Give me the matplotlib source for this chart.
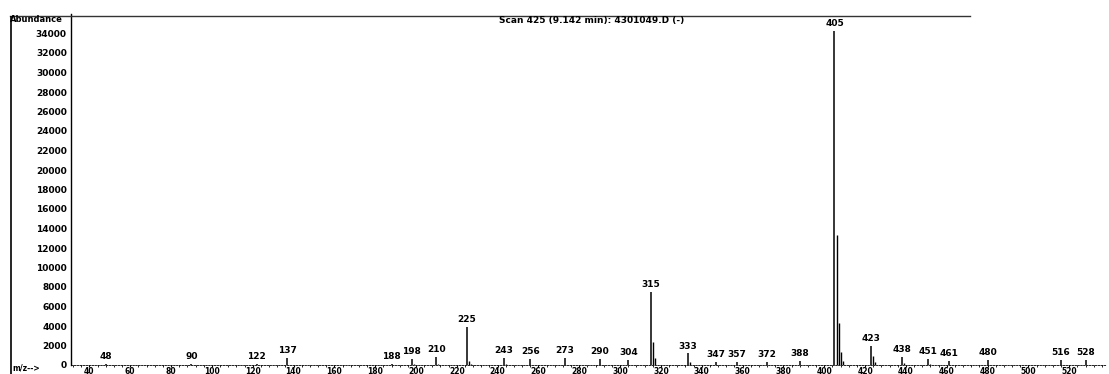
import matplotlib
matplotlib.use("Agg")
import matplotlib.pyplot as plt
from matplotlib.lines import Line2D
from matplotlib.ticker import MultipleLocator

# m/z values and abundances (labelled peaks)
label_mz = [48, 90, 122, 137, 188, 198, 210, 225, 243, 256, 273, 290, 304,
            315, 333, 347, 357, 372, 388, 405, 423, 438, 451, 461, 480, 516, 528]
label_ab = [150, 120, 150, 750, 150, 650, 800, 3900, 750, 600, 750, 600, 500,
            7500, 1200, 300, 300, 300, 400, 34300, 1950, 850, 600, 400, 500, 500, 500]

# additional unlabelled peaks (isotope / fragment lines)
extra_mz = [406, 407, 408, 409, 316, 317, 226, 227, 424, 425, 334, 439, 211, 199, 244, 452]
extra_ab = [13300, 4300, 1300, 400, 2400, 700, 400, 150, 900, 350, 300, 200, 150, 100, 150, 150]

y_ticks = list(range(0, 36000, 2000))
x_ticks = list(range(40, 540, 20))
title = "Scan 425 (9.142 min): 4301049.D (-)"

W, H = 1109, 374
fig = plt.figure(figsize=(W / 100, H / 100), dpi=100)
fig.patch.set_facecolor("white")

ax_left = 71 / W
ax_right = 1106 / W
ax_bottom = 1 - 365 / H
ax_top = 1 - 14 / H
ax = fig.add_axes([ax_left, ax_bottom, ax_right - ax_left, ax_top - ax_bottom])

font = dict(family="DejaVu Sans", weight="bold")

ax.vlines(extra_mz, 0, extra_ab, color="black", lw=1.0)
ax.vlines(label_mz, 0, label_ab, color="black", lw=1.1)

for m, a in zip(label_mz, label_ab):
    ax.annotate(str(m), (m, a), xytext=(0, 2), textcoords="offset points",
                ha="center", va="bottom", fontsize=6.5, **font)

ax.set_xlim(31, 538)
ax.set_ylim(0, 36000)
ax.set_yticks(y_ticks)
ax.set_yticklabels([str(v) for v in y_ticks], fontsize=6.5, **font)
ax.set_xticks(x_ticks)
ax.set_xticklabels([str(v) for v in x_ticks], fontsize=5.5, **font)
ax.xaxis.set_minor_locator(MultipleLocator(4))
ax.tick_params(axis="y", length=0, pad=3)
ax.tick_params(axis="x", which="major", length=1.5, width=0.8, pad=0.0, direction="out")
ax.tick_params(axis="x", which="minor", length=1.2, width=0.6, direction="out")

for s in ["top", "right"]:
    ax.spines[s].set_visible(False)
ax.spines["left"].set_linewidth(1.0)
ax.spines["bottom"].set_linewidth(0.6)
ax.spines["bottom"].set_linestyle((0, (2, 1.5)))

# page decorations
fig.add_artist(Line2D([10 / W, 970 / W], [1 - 15.5 / H, 1 - 15.5 / H], color="#333333", lw=1.0))
fig.add_artist(Line2D([11 / W, 11 / W], [1 - 17 / H, 0], color="black", lw=1.2))

fig.text(10 / W, 1 - 20 / H, "Abundance", fontsize=6, va="center", ha="left", **font)
fig.text(592 / W, 1 - 20 / H, title, fontsize=6.5, va="center", ha="center", **font)
fig.text(12 / W, 1 - 368 / H, "m/z-->", fontsize=5.5, va="center", ha="left", **font)

fig.savefig("out.png", dpi=100)
